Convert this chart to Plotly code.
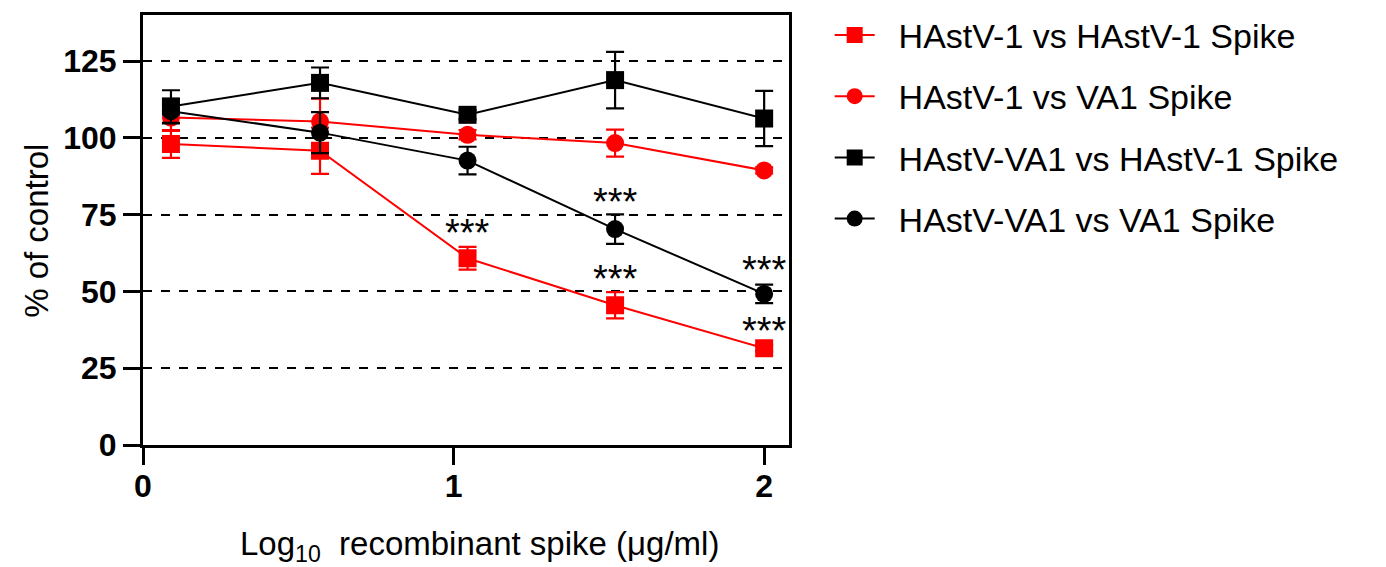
import plotly.graph_objects as go

# Data
x_vals = [0.09, 0.57, 1.045, 1.52, 2.0]
x_ticks = [0, 1, 2]
y_ticks = [0, 25, 50, 75, 100, 125]

names = [
    "HAstV-1 vs HAstV-1 Spike",
    "HAstV-1 vs VA1 Spike",
    "HAstV-VA1 vs HAstV-1 Spike",
    "HAstV-VA1 vs VA1 Spike",
]
h1_h1_mean = [98.0, 95.8, 60.8, 45.5, 31.5]
h1_h1_err = [4.5, 7.5, 3.7, 4.3, 1.0]
h1_va1_mean = [106.6, 105.3, 101.0, 98.3, 89.4]
h1_va1_err = [4.3, 7.5, 1.5, 4.4, 1.0]
va1_h1_mean = [110.2, 117.9, 107.5, 118.8, 106.3]
va1_h1_err = [5.3, 5.0, 1.5, 9.2, 9.0]
va1_va1_mean = [108.7, 101.7, 92.6, 70.3, 49.2]
va1_va1_err = [4.0, 6.7, 4.5, 4.8, 3.0]

# significance labels (x, y)
sig_x = [1.045, 1.52, 1.52, 2.0, 2.0]
sig_y = [69.0, 79.0, 54.0, 57.0, 37.0]
sig_text = ["***", "***", "***", "***", "***"]

x_title = "Log<sub>10</sub>  recombinant spike (μg/ml)"
y_title = "% of control"

RED = "#ff0000"
BLACK = "#000000"
FONT = "Arial, Liberation Sans, Helvetica, sans-serif"

series = [
    (names[0], h1_h1_mean, h1_h1_err, RED, "square"),
    (names[1], h1_va1_mean, h1_va1_err, RED, "circle"),
    (names[2], va1_h1_mean, va1_h1_err, BLACK, "square"),
    (names[3], va1_va1_mean, va1_va1_err, BLACK, "circle"),
]

fig = go.Figure()
for i, (nm, m, e, c, sym) in enumerate(series):
    fig.add_trace(go.Scatter(
        x=x_vals, y=m, name="\u00a0\u00a0" + nm, mode="lines+markers",
        legendgroup=f"g{i}",
        line=dict(color=c, width=2),
        marker=dict(symbol=sym, size=18, color=c),
        error_y=dict(type="data", array=e, visible=True, color=c,
                     thickness=2.2, width=9),
        cliponaxis=False,
    ))

for sx, sy, st in zip(sig_x, sig_y, sig_text):
    fig.add_annotation(x=sx, y=sy, text=st, showarrow=False,
                       font=dict(family=FONT, size=38, color="black"),
                       xanchor="center", yanchor="middle")

# axis titles
fig.add_annotation(xref="paper", yref="paper", x=0.521, y=-0.236,
                   text=x_title, showarrow=False,
                   font=dict(family=FONT, size=33, color="black"),
                   xanchor="center", yanchor="middle")
fig.add_annotation(xref="paper", yref="paper", x=-0.165, y=0.499,
                   text=y_title, showarrow=False, textangle=-90,
                   font=dict(family=FONT, size=33, color="black"),
                   xanchor="center", yanchor="middle")

fig.update_layout(
    width=1386, height=567,
    margin=dict(l=135, r=605, t=7, b=130, autoexpand=False),
    plot_bgcolor="white", paper_bgcolor="white",
    font=dict(family=FONT, color="black"),
    showlegend=True,
    legend=dict(
        x=1.063, y=1.02, xanchor="left", yanchor="top",
        font=dict(family=FONT, size=34, color="black"),
        traceorder="grouped", tracegroupgap=14,
        itemwidth=40, bgcolor="rgba(0,0,0,0)",
    ),
)

fig.update_xaxes(
    range=[0, 2.08], tickvals=x_ticks, ticktext=[str(t) for t in x_ticks],
    showline=True, linecolor="black", linewidth=3, mirror=True,
    ticks="outside", ticklen=17, tickwidth=3, tickcolor="black",
    tickfont=dict(family=FONT, size=32, color="black", weight="bold"),
    ticklabelstandoff=-6,
    showgrid=False, zeroline=False, automargin=False,
)
fig.update_yaxes(
    range=[0, 140], tickvals=y_ticks, ticktext=[str(t) for t in y_ticks],
    showline=True, linecolor="black", linewidth=3, mirror=True,
    ticks="outside", ticklen=17, tickwidth=3, tickcolor="black",
    tickfont=dict(family=FONT, size=32, color="black", weight="bold"),
    showgrid=True, gridcolor="black", gridwidth=1.8, griddash="dash",
    zeroline=False, automargin=False,
)

fig.write_html("out.html")
